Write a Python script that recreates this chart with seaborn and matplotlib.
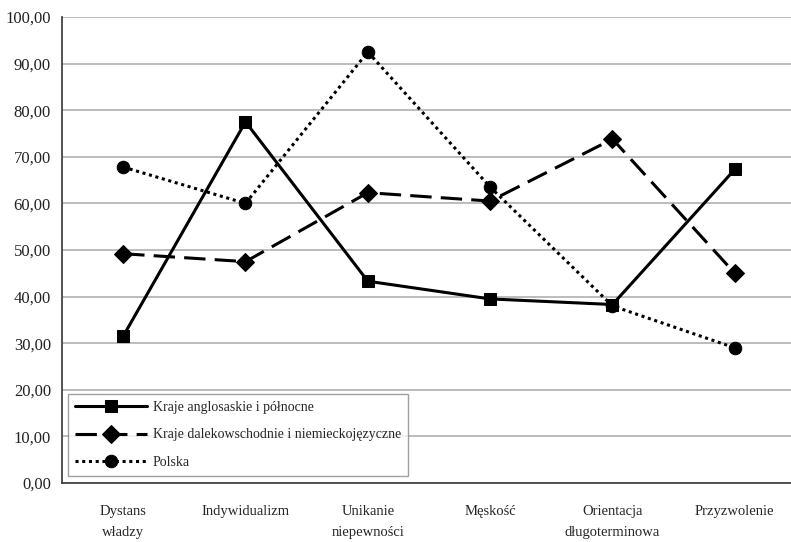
import matplotlib
matplotlib.use("Agg")
import matplotlib.pyplot as plt
import matplotlib.ticker as mticker
import seaborn as sns
import pandas as pd

categories = ["Dystans\nwładzy", "Indywidualizm", "Unikanie\nniepewności",
              "Męskość", "Orientacja\ndługoterminowa", "Przyzwolenie"]
anglo = [31.5, 77.5, 43.3, 39.5, 38.3, 67.3]
dalekowschodnie = [49.2, 47.5, 62.3, 60.5, 73.8, 45.0]
polska = [67.8, 60.0, 92.5, 63.5, 38.0, 29.0]
series_names = ["Kraje anglosaskie i północne",
                "Kraje dalekowschodnie i niemieckojęzyczne",
                "Polska"]

sns.set_style("white")
plt.rcParams["font.family"] = ["Liberation Serif", "DejaVu Serif"]

fig = plt.figure(figsize=(7.91, 5.42), dpi=100)
ax = fig.add_axes([62/791, 59/542, 734/791, 466/542])

x = list(range(len(categories)))
styles = [
    (anglo, "-", "s", 9),
    (dalekowschodnie, (0, (7, 3)), "D", 9),
    (polska, (0, (1, 1.2)), "o", 9),
]
for (vals, ls, mk, ms), name in zip(styles, series_names):
    sns.lineplot(x=x, y=vals, ax=ax, color="black", linestyle=ls, linewidth=2.2,
                 marker=mk, markersize=ms, markeredgecolor="black",
                 label=name, sort=False)

ax.set_xlim(-0.5, len(categories) - 0.5)
ax.set_ylim(0, 100)
ax.yaxis.set_major_locator(mticker.MultipleLocator(10))
ax.yaxis.set_major_formatter(mticker.FuncFormatter(lambda v, p: f"{v:.2f}".replace(".", ",")))
ax.set_xticks(x)
ax.set_xticklabels(categories, fontsize=10.5, linespacing=1.75, va="top")
ax.set_xticks([i + 0.5 for i in range(len(categories) - 1)], minor=True)
ax.tick_params(axis="x", which="major", length=0, pad=16)
ax.tick_params(axis="x", which="minor", length=5, color="#555555", width=1, direction="out")
ax.tick_params(axis="y", length=5, color="#555555", width=1, direction="out", labelsize=12, pad=3)
for lbl in ax.get_yticklabels():
    lbl.set_color("#222222")
ax.grid(axis="y", color="#b0b0b0", linewidth=1.2)
ax.set_axisbelow(True)
for s in ["top", "right"]:
    ax.spines[s].set_visible(False)
for s in ["left", "bottom"]:
    ax.spines[s].set_color("#444444")
    ax.spines[s].set_linewidth(1.3)
ax.set_xlabel("")
ax.set_ylabel("")

leg = ax.legend(loc="lower left", bbox_to_anchor=(6/734, 7/466), fontsize=10,
                frameon=True, fancybox=False, edgecolor="#888888",
                handlelength=5.2, handletextpad=0.4, borderpad=0.5,
                labelspacing=1.05, borderaxespad=0)
leg.get_frame().set_linewidth(1.0)

fig.savefig("out.png", dpi=100)
